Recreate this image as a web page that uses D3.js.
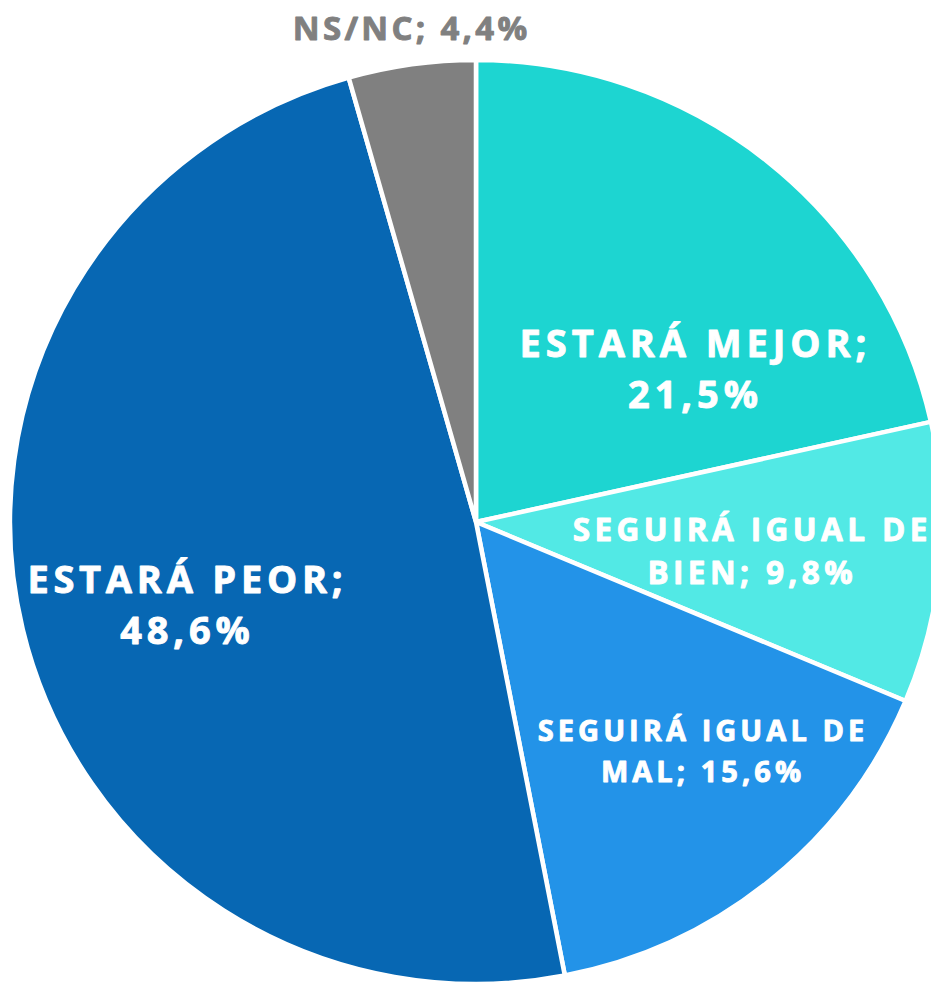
<!DOCTYPE html>
<html>
<head>
<meta charset="utf-8">
<script src="https://cdn.jsdelivr.net/npm/d3@7"></script>
<style>
  html, body { margin: 0; padding: 0; background: #ffffff; }
  svg { display: block; }
  text { font-family: "Open Sans", sans-serif; font-weight: 700; }
</style>
</head>
<body>
<svg id="chart" width="931" height="986"></svg>
<script>
// ---- data ----
const categories = ["ESTARÁ MEJOR", "SEGUIRÁ IGUAL DE BIEN", "SEGUIRÁ IGUAL DE MAL", "ESTARÁ PEOR", "NS/NC"];
const values = [21.5, 9.8, 15.6, 48.6, 4.4];
const colors = ["#1dd5d1", "#52e9e5", "#2393e8", "#0767b3", "#808080"];
// number of words of the category kept on the first label line (rest goes with the value)
const firstLineWords = [2, 3, 3, 2, 0];

// ---- layout ----
const width = 931, height = 986;
const cx = 476, cy = 522, r = 462, stretchX = 1.0087;
const labelLayout = [
  { x: 693, y: 357, size: 38, lh: 51, color: "#ffffff", ls: 0.13 },
  { x: 750, y: 541, size: 31.5, lh: 43, color: "#ffffff", ls: 0.14 },
  { x: 701, y: 741, size: 29, lh: 41, color: "#ffffff", ls: 0.14 },
  { x: 185, y: 593, size: 38, lh: 51, color: "#ffffff", ls: 0.125 },
  { x: 410, y: 40, size: 33, lh: 0, color: "#808080", ls: 0.1 }
];

const fmt = v => v.toFixed(1).replace(".", ",") + "%";
function labelLines(i) {
  const words = categories[i].split(" ");
  const n = firstLineWords[i];
  if (n === 0) return [categories[i] + "; " + fmt(values[i])];
  const first = words.slice(0, n).join(" ");
  const rest = words.slice(n).join(" ");
  if (rest) return [first, rest + "; " + fmt(values[i])];
  return [first + ";", fmt(values[i])];
}

const svg = d3.select("#chart");
const data = categories.map((c, i) => ({ cat: c, value: values[i], i }));

const pie = d3.pie().sort(null).value(d => d.value);
const arc = d3.arc().innerRadius(0).outerRadius(r);

const g = svg.append("g")
  .attr("transform", `translate(${cx},${cy}) scale(${stretchX},1)`);

g.selectAll("path")
  .data(pie(data))
  .join("path")
  .attr("d", arc)
  .attr("fill", d => colors[d.data.i])
  .attr("stroke", "#ffffff")
  .attr("stroke-width", 4.5)
  .attr("stroke-linejoin", "round");

const labels = svg.append("g");
data.forEach((d, i) => {
  const L = labelLayout[i];
  const t = labels.append("text")
    .attr("text-anchor", "middle")
    .attr("fill", L.color)
    .attr("stroke", L.color)
    .attr("stroke-width", 0.9)
    .attr("stroke-linejoin", "round")
    .style("font-size", L.size + "px")
    .style("letter-spacing", (L.size * L.ls) + "px");
  labelLines(i).forEach((line, k) => {
    t.append("tspan")
      .attr("x", L.x + L.size * L.ls / 2)
      .attr("y", L.y + k * L.lh)
      .text(line);
  });
});
</script>
</body>
</html>
